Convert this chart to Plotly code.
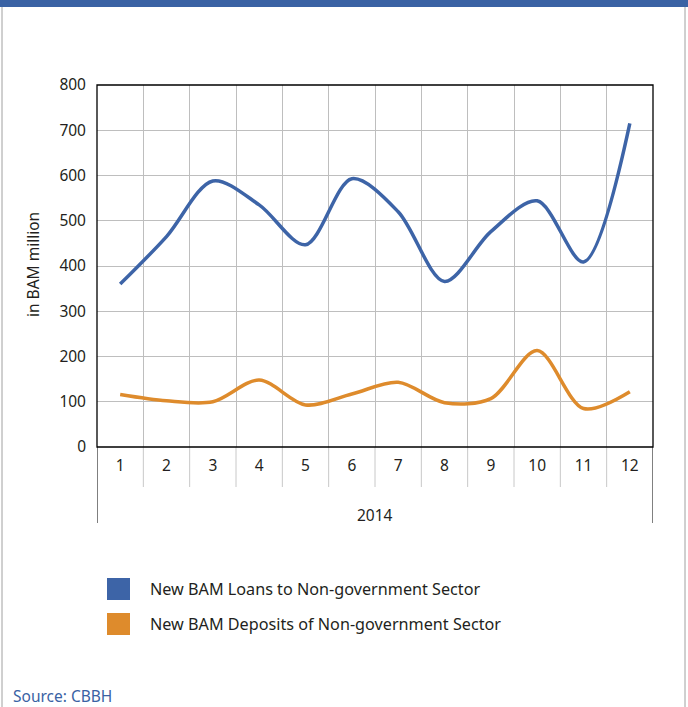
import plotly.graph_objects as go

months = ["1", "2", "3", "4", "5", "6", "7", "8", "9", "10", "11", "12"]
year_label = "2014"
loans = [360, 465, 588, 535, 447, 593, 520, 366, 476, 544, 409, 715]
deposits = [116, 102, 100, 148, 93, 117, 143, 98, 107, 213, 85, 122]
series_names = ["New BAM Loans to Non-government Sector",
                "New BAM Deposits of Non-government Sector"]
series_colors = ["#3D64A7", "#DE8B2C"]
y_ticks = [0, 100, 200, 300, 400, 500, 600, 700, 800]
y_title = "in BAM million"
source_text = "Source: CBBH"

W, H = 688, 707
L, R, T, B = 97, 653, 85, 447  # plot area in pixels
FONT = "Noto Sans"
TXT = "#231F20"

def px(x):
    return (x - L) / (R - L)

def py(y):
    return (B - y) / (B - T)

xs = list(range(1, len(months) + 1))

fig = go.Figure()
fig.add_trace(go.Scatter(x=xs, y=loans, mode="lines", name=series_names[0],
                         line=dict(color=series_colors[0], width=3.5, shape="spline", smoothing=0.9),
                         showlegend=False))
fig.add_trace(go.Scatter(x=xs, y=deposits, mode="lines", name=series_names[1],
                         line=dict(color=series_colors[1], width=3.5, shape="spline", smoothing=0.9),
                         showlegend=False))

shapes = []
# frame of the whole picture
shapes.append(dict(type="rect", xref="paper", yref="paper", x0=px(0), x1=px(W), y0=py(7), y1=py(0),
                   fillcolor="#3A62A4", line=dict(width=0), layer="above"))
shapes.append(dict(type="line", xref="paper", yref="paper", x0=px(2), x1=px(2), y0=py(7), y1=py(H),
                   line=dict(color="#A0A0A0", width=1)))
shapes.append(dict(type="line", xref="paper", yref="paper", x0=px(685), x1=px(685), y0=py(7), y1=py(H),
                   line=dict(color="#A0A0A0", width=1)))
# separators between month labels
for i in range(1, len(months)):
    shapes.append(dict(type="line", xref="x", yref="paper", x0=i + 0.5, x1=i + 0.5,
                       y0=py(B), y1=py(487), line=dict(color="#C8C8C8", width=1)))
# outer bounds of year group
for xv in [0.5, len(months) + 0.5]:
    shapes.append(dict(type="line", xref="x", yref="paper", x0=xv, x1=xv,
                       y0=py(B), y1=py(523), line=dict(color="#000000", width=1)))
# plot border
shapes.append(dict(type="rect", xref="paper", yref="paper", x0=0, x1=1, y0=0, y1=1,
                   line=dict(color="#000000", width=1.3), layer="above"))
# legend squares
leg_y = [589, 624]
for c, yc in zip(series_colors, leg_y):
    shapes.append(dict(type="rect", xref="paper", yref="paper", x0=px(107), x1=px(130),
                       y0=py(yc + 11), y1=py(yc - 11), fillcolor=c, line=dict(width=0)))

annotations = []
for n, yc in zip(series_names, leg_y):
    annotations.append(dict(text=n, xref="paper", yref="paper", x=px(148), y=py(yc),
                            xanchor="left", yanchor="middle", showarrow=False,
                            font=dict(family=FONT, size=16.2, color=TXT)))
annotations.append(dict(text=year_label, xref="paper", yref="paper", x=0.5, y=py(515),
                        xanchor="center", yanchor="middle", showarrow=False,
                        font=dict(family=FONT, size=15.5, color=TXT)))
annotations.append(dict(text=source_text, xref="paper", yref="paper", x=px(11), y=py(696),
                        xanchor="left", yanchor="middle", showarrow=False,
                        font=dict(family=FONT, size=15.5, color="#3A62A4")))
annotations.append(dict(text=y_title, xref="paper", yref="paper", x=px(33), y=py(265),
                        xanchor="center", yanchor="middle", showarrow=False, textangle=-90,
                        font=dict(family=FONT, size=15.5, color=TXT)))

fig.update_layout(
    width=W, height=H,
    margin=dict(l=L, r=W - R, t=T, b=H - B),
    paper_bgcolor="white", plot_bgcolor="white",
    shapes=shapes, annotations=annotations, showlegend=False,
    xaxis=dict(range=[0.5, len(months) + 0.5], tickvals=xs, ticktext=months,
               showgrid=False, zeroline=False, showline=False, ticks="",
               ticklabelstandoff=7,
               tickfont=dict(family=FONT, size=15.5, color=TXT),
               minor=dict(tickvals=[i + 0.5 for i in range(1, len(months))], showgrid=True,
                          gridcolor="#BEBEBE", gridwidth=1, ticks="")),
    yaxis=dict(range=[0, 800], tickvals=y_ticks, showgrid=True, gridcolor="#BEBEBE", gridwidth=1,
               zeroline=False, showline=False, ticks="", ticklabelstandoff=10,
               tickfont=dict(family=FONT, size=15.5, color=TXT)),
)

fig.write_html("out.html")
